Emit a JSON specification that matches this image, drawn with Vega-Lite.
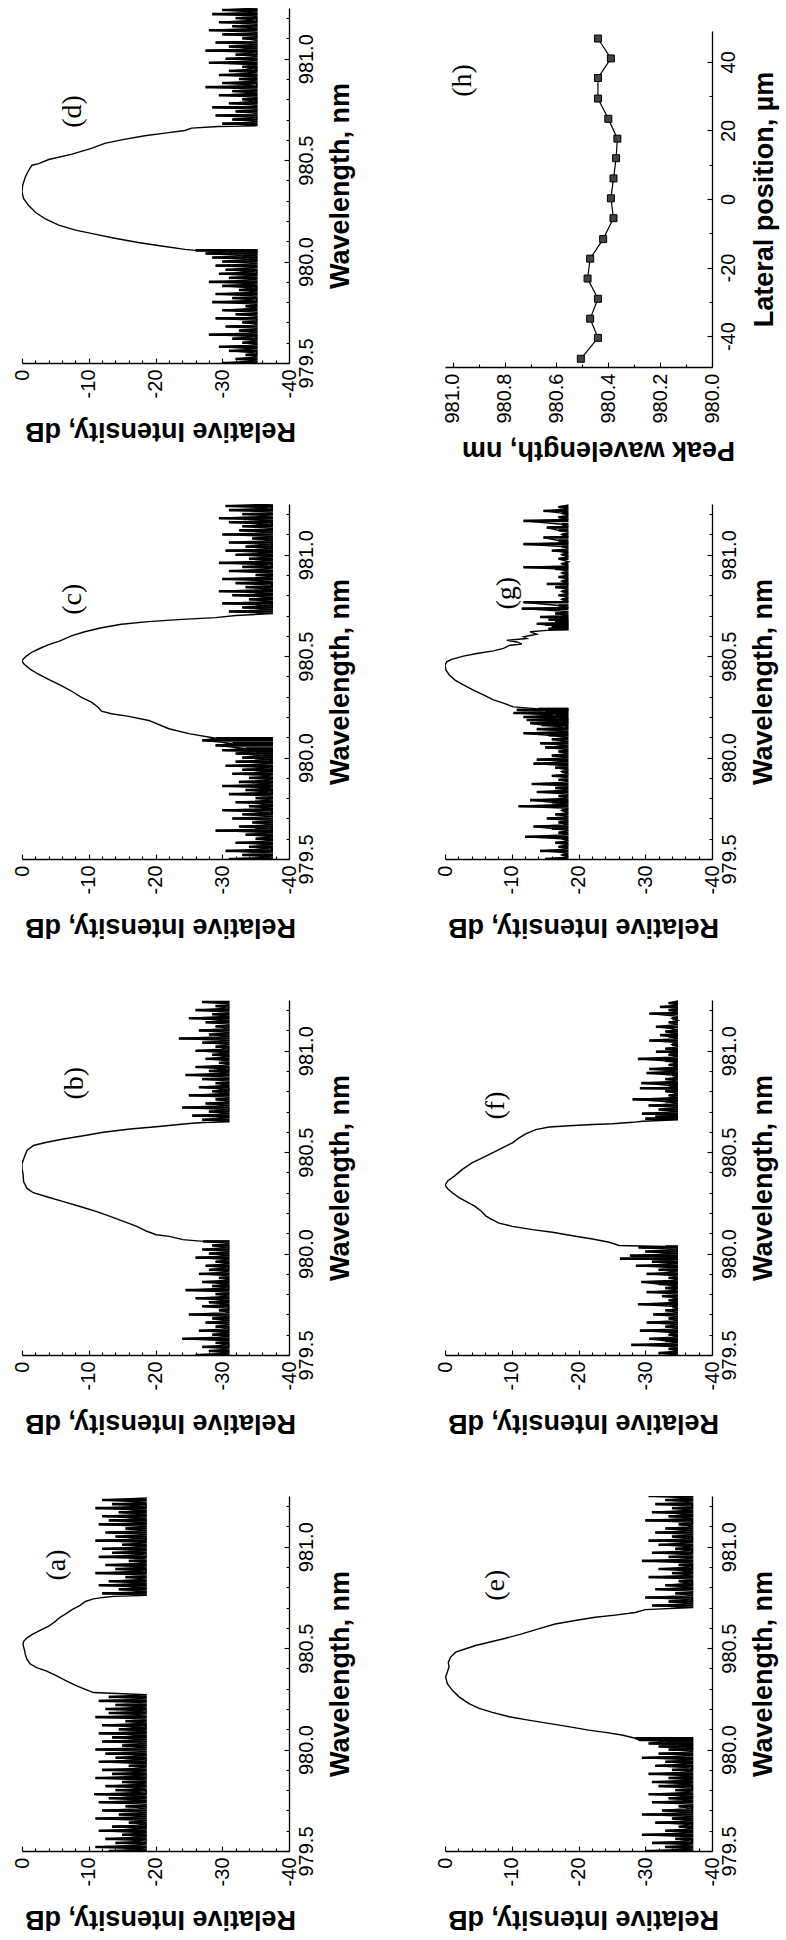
{
"$schema": "https://vega.github.io/schema/vega-lite/v6.json",
"background": "white",
"padding": {"left": 12, "top": 8, "right": 4, "bottom": 10},
"bounds": "flush",
"columns": 2,
"spacing": {"row": 141, "column": 156},
"datasets": {
"d": [{"w":979.50,"v":-30},{"w":979.51,"v":-35.3},{"w":979.52,"v":-32},{"w":979.53,"v":-35.3},{"w":979.54,"v":-33.5},{"w":979.55,"v":-35},{"w":979.56,"v":-31},{"w":979.57,"v":-35.3},{"w":979.58,"v":-29.5},{"w":979.59,"v":-35.3},{"w":979.60,"v":-33},{"w":979.61,"v":-35.3},{"w":979.62,"v":-31.5},{"w":979.63,"v":-34.8},{"w":979.64,"v":-28},{"w":979.65,"v":-35.3},{"w":979.66,"v":-32.5},{"w":979.67,"v":-35.3},{"w":979.68,"v":-30.5},{"w":979.69,"v":-35.3},{"w":979.70,"v":-33},{"w":979.71,"v":-35},{"w":979.72,"v":-29},{"w":979.73,"v":-35.3},{"w":979.74,"v":-32},{"w":979.75,"v":-35.3},{"w":979.76,"v":-30},{"w":979.77,"v":-35.3},{"w":979.78,"v":-33.5},{"w":979.79,"v":-35.3},{"w":979.80,"v":-28.5},{"w":979.81,"v":-35},{"w":979.82,"v":-31.5},{"w":979.83,"v":-35.3},{"w":979.84,"v":-29},{"w":979.85,"v":-35.3},{"w":979.86,"v":-32.5},{"w":979.87,"v":-34.8},{"w":979.88,"v":-30},{"w":979.89,"v":-35.3},{"w":979.90,"v":-28},{"w":979.91,"v":-35.3},{"w":979.92,"v":-31},{"w":979.93,"v":-35.3},{"w":979.94,"v":-29.5},{"w":979.95,"v":-35},{"w":979.96,"v":-30.5},{"w":979.97,"v":-35.3},{"w":979.98,"v":-29},{"w":979.99,"v":-35.3},{"w":980.00,"v":-30},{"w":980.01,"v":-34},{"w":980.02,"v":-28.5},{"w":980.03,"v":-33},{"w":980.04,"v":-27.5},{"w":980.05,"v":-31},{"w":980.055,"v":-26},{"w":980.06,"v":-24.4},{"w":980.077,"v":-20.9},{"w":980.094,"v":-17.4},{"w":980.115,"v":-13.9},{"w":980.135,"v":-10.9},{"w":980.155,"v":-8},{"w":980.18,"v":-5.5},{"w":980.21,"v":-3.5},{"w":980.243,"v":-2},{"w":980.276,"v":-1},{"w":980.31,"v":-0.25},{"w":980.342,"v":0},{"w":980.376,"v":-0.1},{"w":980.417,"v":-0.5},{"w":980.45,"v":-1},{"w":980.475,"v":-1.5},{"w":980.483,"v":-2.5},{"w":980.503,"v":-4},{"w":980.53,"v":-7.5},{"w":980.558,"v":-10.4},{"w":980.583,"v":-12.4},{"w":980.6,"v":-14.9},{"w":980.62,"v":-18.4},{"w":980.633,"v":-21.4},{"w":980.646,"v":-24.4},{"w":980.658,"v":-25.4},{"w":980.666,"v":-29.4},{"w":980.67,"v":-35.3},{"w":980.68,"v":-30},{"w":980.69,"v":-35.3},{"w":980.70,"v":-31.5},{"w":980.71,"v":-35},{"w":980.72,"v":-29},{"w":980.73,"v":-35.3},{"w":980.74,"v":-32},{"w":980.75,"v":-35.3},{"w":980.76,"v":-28.5},{"w":980.77,"v":-35.3},{"w":980.78,"v":-31},{"w":980.79,"v":-34.8},{"w":980.80,"v":-33},{"w":980.81,"v":-35.3},{"w":980.82,"v":-29.5},{"w":980.83,"v":-35.3},{"w":980.84,"v":-31.5},{"w":980.85,"v":-35.3},{"w":980.86,"v":-27.5},{"w":980.87,"v":-35},{"w":980.88,"v":-30},{"w":980.89,"v":-35.3},{"w":980.90,"v":-32.5},{"w":980.91,"v":-35.3},{"w":980.92,"v":-29.5},{"w":980.93,"v":-35.3},{"w":980.94,"v":-31},{"w":980.95,"v":-34.8},{"w":980.96,"v":-33},{"w":980.97,"v":-35.3},{"w":980.98,"v":-28},{"w":980.99,"v":-35.3},{"w":981.00,"v":-30.5},{"w":981.01,"v":-35.3},{"w":981.02,"v":-32},{"w":981.03,"v":-35},{"w":981.04,"v":-27.5},{"w":981.05,"v":-35.3},{"w":981.06,"v":-31},{"w":981.07,"v":-35.3},{"w":981.08,"v":-29},{"w":981.09,"v":-35.3},{"w":981.10,"v":-33},{"w":981.11,"v":-34.8},{"w":981.12,"v":-30},{"w":981.13,"v":-35.3},{"w":981.14,"v":-28},{"w":981.15,"v":-35.3},{"w":981.16,"v":-31.5},{"w":981.17,"v":-35.3},{"w":981.18,"v":-29.5},{"w":981.19,"v":-35},{"w":981.20,"v":-32},{"w":981.21,"v":-35.3},{"w":981.22,"v":-28.5},{"w":981.23,"v":-35.3},{"w":981.24,"v":-30},{"w":981.25,"v":-35.3}],
"c": [{"w":979.50,"v":-31},{"w":979.51,"v":-37.6},{"w":979.52,"v":-33},{"w":979.53,"v":-37.6},{"w":979.54,"v":-30.5},{"w":979.55,"v":-37.2},{"w":979.56,"v":-34},{"w":979.57,"v":-37.6},{"w":979.58,"v":-32},{"w":979.59,"v":-37.6},{"w":979.60,"v":-35},{"w":979.61,"v":-37.6},{"w":979.62,"v":-33.5},{"w":979.63,"v":-37.6},{"w":979.64,"v":-29},{"w":979.65,"v":-37.2},{"w":979.66,"v":-32.5},{"w":979.67,"v":-37.6},{"w":979.68,"v":-34.5},{"w":979.69,"v":-37.6},{"w":979.70,"v":-31.5},{"w":979.71,"v":-37.6},{"w":979.72,"v":-33},{"w":979.73,"v":-37.2},{"w":979.74,"v":-30},{"w":979.75,"v":-37.6},{"w":979.76,"v":-34},{"w":979.77,"v":-37.6},{"w":979.78,"v":-32},{"w":979.79,"v":-37.6},{"w":979.80,"v":-35},{"w":979.81,"v":-37.6},{"w":979.82,"v":-31},{"w":979.83,"v":-37.2},{"w":979.84,"v":-33.5},{"w":979.85,"v":-37.6},{"w":979.86,"v":-30},{"w":979.87,"v":-37.6},{"w":979.88,"v":-32.5},{"w":979.89,"v":-37.6},{"w":979.90,"v":-34},{"w":979.91,"v":-37.6},{"w":979.92,"v":-31.5},{"w":979.93,"v":-37.6},{"w":979.94,"v":-33},{"w":979.95,"v":-37.2},{"w":979.96,"v":-30.5},{"w":979.97,"v":-37.6},{"w":979.98,"v":-32},{"w":979.99,"v":-37},{"w":980.00,"v":-33},{"w":980.01,"v":-36},{"w":980.02,"v":-32},{"w":980.03,"v":-35},{"w":980.036,"v":-30},{"w":980.045,"v":-33.5},{"w":980.06,"v":-29},{"w":980.07,"v":-31.5},{"w":980.085,"v":-27},{"w":980.095,"v":-29},{"w":980.118,"v":-25},{"w":980.142,"v":-22},{"w":980.183,"v":-19},{"w":980.203,"v":-16},{"w":980.216,"v":-13.4},{"w":980.229,"v":-11.9},{"w":980.248,"v":-11.4},{"w":980.273,"v":-10.4},{"w":980.297,"v":-8.9},{"w":980.322,"v":-7.7},{"w":980.355,"v":-5.9},{"w":980.387,"v":-3.9},{"w":980.412,"v":-2.4},{"w":980.436,"v":-1.2},{"w":980.461,"v":-0.3},{"w":980.477,"v":0},{"w":980.49,"v":-0.3},{"w":980.50,"v":-0.65},{"w":980.518,"v":-1.4},{"w":980.534,"v":-2.4},{"w":980.556,"v":-3.9},{"w":980.575,"v":-5.7},{"w":980.60,"v":-7.4},{"w":980.62,"v":-9.4},{"w":980.64,"v":-11.9},{"w":980.657,"v":-14.9},{"w":980.67,"v":-18.9},{"w":980.681,"v":-24},{"w":980.69,"v":-29},{"w":980.70,"v":-32},{"w":980.71,"v":-37.6},{"w":980.72,"v":-31},{"w":980.73,"v":-37.6},{"w":980.74,"v":-33},{"w":980.75,"v":-37.2},{"w":980.76,"v":-30},{"w":980.77,"v":-37.6},{"w":980.78,"v":-34},{"w":980.79,"v":-37.6},{"w":980.80,"v":-31.5},{"w":980.81,"v":-37.6},{"w":980.82,"v":-29.5},{"w":980.83,"v":-37.6},{"w":980.84,"v":-33.5},{"w":980.85,"v":-37.2},{"w":980.86,"v":-32},{"w":980.87,"v":-37.6},{"w":980.88,"v":-30},{"w":980.89,"v":-37.6},{"w":980.90,"v":-35},{"w":980.91,"v":-37.6},{"w":980.92,"v":-31},{"w":980.93,"v":-37.6},{"w":980.94,"v":-33},{"w":980.95,"v":-37.2},{"w":980.96,"v":-29.5},{"w":980.97,"v":-37.6},{"w":980.98,"v":-34},{"w":980.99,"v":-37.6},{"w":981.00,"v":-32},{"w":981.01,"v":-37.6},{"w":981.02,"v":-30.5},{"w":981.03,"v":-37.6},{"w":981.04,"v":-33.5},{"w":981.05,"v":-37.2},{"w":981.06,"v":-31},{"w":981.07,"v":-37.6},{"w":981.08,"v":-34.5},{"w":981.09,"v":-37.6},{"w":981.10,"v":-30},{"w":981.11,"v":-37.6},{"w":981.12,"v":-32.5},{"w":981.13,"v":-37.6},{"w":981.14,"v":-33},{"w":981.15,"v":-37.2},{"w":981.16,"v":-31},{"w":981.17,"v":-37.6},{"w":981.18,"v":-29.5},{"w":981.19,"v":-37.6},{"w":981.20,"v":-33},{"w":981.21,"v":-37.6},{"w":981.22,"v":-31},{"w":981.23,"v":-37.2},{"w":981.24,"v":-30.5},{"w":981.25,"v":-37.6}],
"b": [{"w":979.50,"v":-26},{"w":979.51,"v":-31.1},{"w":979.52,"v":-28},{"w":979.53,"v":-31.1},{"w":979.54,"v":-27},{"w":979.55,"v":-30.8},{"w":979.56,"v":-29},{"w":979.57,"v":-31.1},{"w":979.58,"v":-24},{"w":979.59,"v":-31.1},{"w":979.60,"v":-28.5},{"w":979.61,"v":-31.1},{"w":979.62,"v":-26.5},{"w":979.63,"v":-30.8},{"w":979.64,"v":-29},{"w":979.65,"v":-31.1},{"w":979.66,"v":-27.5},{"w":979.67,"v":-31.1},{"w":979.68,"v":-28.5},{"w":979.69,"v":-31.1},{"w":979.70,"v":-25},{"w":979.71,"v":-31.1},{"w":979.72,"v":-29.5},{"w":979.73,"v":-30.8},{"w":979.74,"v":-27},{"w":979.75,"v":-31.1},{"w":979.76,"v":-28},{"w":979.77,"v":-31.1},{"w":979.78,"v":-26},{"w":979.79,"v":-31.1},{"w":979.80,"v":-29},{"w":979.81,"v":-31.1},{"w":979.82,"v":-24.5},{"w":979.83,"v":-30.8},{"w":979.84,"v":-28.5},{"w":979.85,"v":-31.1},{"w":979.86,"v":-27},{"w":979.87,"v":-31.1},{"w":979.88,"v":-29.5},{"w":979.89,"v":-31.1},{"w":979.90,"v":-26.5},{"w":979.91,"v":-31.1},{"w":979.92,"v":-28},{"w":979.93,"v":-30.8},{"w":979.94,"v":-27.5},{"w":979.95,"v":-31.1},{"w":979.96,"v":-29},{"w":979.97,"v":-31.1},{"w":979.98,"v":-26},{"w":979.99,"v":-31.1},{"w":980.00,"v":-28},{"w":980.01,"v":-31.1},{"w":980.02,"v":-27},{"w":980.03,"v":-30.8},{"w":980.04,"v":-28.5},{"w":980.05,"v":-31.1},{"w":980.06,"v":-27.1},{"w":980.069,"v":-24.1},{"w":980.085,"v":-22.1},{"w":980.093,"v":-20.1},{"w":980.11,"v":-18.7},{"w":980.134,"v":-17.2},{"w":980.159,"v":-15.2},{"w":980.183,"v":-13.2},{"w":980.207,"v":-11.2},{"w":980.232,"v":-8.7},{"w":980.256,"v":-6.2},{"w":980.28,"v":-3.7},{"w":980.30,"v":-1.7},{"w":980.321,"v":-0.75},{"w":980.354,"v":-0.25},{"w":980.394,"v":-0.15},{"w":980.419,"v":0},{"w":980.443,"v":0},{"w":980.476,"v":-0.35},{"w":980.508,"v":-0.75},{"w":980.533,"v":-1.7},{"w":980.549,"v":-3.7},{"w":980.565,"v":-6.2},{"w":980.581,"v":-9.2},{"w":980.598,"v":-12.2},{"w":980.614,"v":-16.2},{"w":980.625,"v":-20.1},{"w":980.635,"v":-23.1},{"w":980.641,"v":-25.1},{"w":980.646,"v":-27.1},{"w":980.65,"v":-31.1},{"w":980.66,"v":-27},{"w":980.67,"v":-31.1},{"w":980.68,"v":-25.5},{"w":980.69,"v":-31.1},{"w":980.70,"v":-28},{"w":980.71,"v":-30.8},{"w":980.72,"v":-24},{"w":980.73,"v":-31.1},{"w":980.74,"v":-27.5},{"w":980.75,"v":-31.1},{"w":980.76,"v":-29},{"w":980.77,"v":-31.1},{"w":980.78,"v":-25},{"w":980.79,"v":-31.1},{"w":980.80,"v":-28.5},{"w":980.81,"v":-30.8},{"w":980.82,"v":-26.5},{"w":980.83,"v":-31.1},{"w":980.84,"v":-29},{"w":980.85,"v":-31.1},{"w":980.86,"v":-27},{"w":980.87,"v":-31.1},{"w":980.88,"v":-24.5},{"w":980.89,"v":-31.1},{"w":980.90,"v":-28},{"w":980.91,"v":-30.8},{"w":980.92,"v":-26},{"w":980.93,"v":-31.1},{"w":980.94,"v":-29.5},{"w":980.95,"v":-31.1},{"w":980.96,"v":-27.5},{"w":980.97,"v":-31.1},{"w":980.98,"v":-28.5},{"w":980.99,"v":-31.1},{"w":981.00,"v":-26},{"w":981.01,"v":-30.8},{"w":981.02,"v":-29},{"w":981.03,"v":-31.1},{"w":981.04,"v":-27},{"w":981.05,"v":-31.1},{"w":981.06,"v":-23.5},{"w":981.07,"v":-31.1},{"w":981.08,"v":-28},{"w":981.09,"v":-31.1},{"w":981.10,"v":-26.5},{"w":981.11,"v":-30.8},{"w":981.12,"v":-29},{"w":981.13,"v":-31.1},{"w":981.14,"v":-27.5},{"w":981.15,"v":-31.1},{"w":981.16,"v":-25},{"w":981.17,"v":-31.1},{"w":981.18,"v":-28.5},{"w":981.19,"v":-31.1},{"w":981.20,"v":-26},{"w":981.21,"v":-30.8},{"w":981.22,"v":-29},{"w":981.23,"v":-31.1},{"w":981.24,"v":-27}],
"a": [{"w":979.50,"v":-13},{"w":979.51,"v":-18.7},{"w":979.52,"v":-11},{"w":979.53,"v":-18.7},{"w":979.54,"v":-14},{"w":979.55,"v":-18.5},{"w":979.56,"v":-12.5},{"w":979.57,"v":-18.7},{"w":979.58,"v":-15},{"w":979.59,"v":-18.7},{"w":979.60,"v":-11.5},{"w":979.61,"v":-18.7},{"w":979.62,"v":-13.5},{"w":979.63,"v":-18.4},{"w":979.64,"v":-16},{"w":979.65,"v":-18.7},{"w":979.66,"v":-11},{"w":979.67,"v":-18.7},{"w":979.68,"v":-14.5},{"w":979.69,"v":-18.7},{"w":979.70,"v":-12},{"w":979.71,"v":-18.5},{"w":979.72,"v":-15.5},{"w":979.73,"v":-18.7},{"w":979.74,"v":-11.5},{"w":979.75,"v":-18.7},{"w":979.76,"v":-13},{"w":979.77,"v":-18.7},{"w":979.78,"v":-10.8},{"w":979.79,"v":-18.4},{"w":979.80,"v":-14},{"w":979.81,"v":-18.7},{"w":979.82,"v":-12.5},{"w":979.83,"v":-18.7},{"w":979.84,"v":-15},{"w":979.85,"v":-18.7},{"w":979.86,"v":-11},{"w":979.87,"v":-18.5},{"w":979.88,"v":-13.5},{"w":979.89,"v":-18.7},{"w":979.90,"v":-12},{"w":979.91,"v":-18.7},{"w":979.92,"v":-16},{"w":979.93,"v":-18.7},{"w":979.94,"v":-11.5},{"w":979.95,"v":-18.4},{"w":979.96,"v":-14},{"w":979.97,"v":-18.7},{"w":979.98,"v":-12.5},{"w":979.99,"v":-18.7},{"w":980.00,"v":-11},{"w":980.01,"v":-18.7},{"w":980.02,"v":-15},{"w":980.03,"v":-18.5},{"w":980.04,"v":-12},{"w":980.05,"v":-18.7},{"w":980.06,"v":-13.5},{"w":980.07,"v":-18.7},{"w":980.08,"v":-11.5},{"w":980.09,"v":-18.7},{"w":980.10,"v":-14.5},{"w":980.11,"v":-18.4},{"w":980.12,"v":-12},{"w":980.13,"v":-18.7},{"w":980.14,"v":-15.5},{"w":980.15,"v":-18.7},{"w":980.16,"v":-11},{"w":980.17,"v":-18.7},{"w":980.18,"v":-13},{"w":980.19,"v":-18.5},{"w":980.20,"v":-12.5},{"w":980.21,"v":-18.7},{"w":980.22,"v":-14},{"w":980.23,"v":-18.7},{"w":980.24,"v":-11.5},{"w":980.25,"v":-18.7},{"w":980.26,"v":-13},{"w":980.27,"v":-18.7},{"w":980.281,"v":-10.7},{"w":980.297,"v":-9.5},{"w":980.314,"v":-8.2},{"w":980.338,"v":-6.7},{"w":980.363,"v":-5.2},{"w":980.387,"v":-3.7},{"w":980.404,"v":-2.2},{"w":980.423,"v":-1.2},{"w":980.444,"v":-0.75},{"w":980.469,"v":-0.5},{"w":980.493,"v":-0.35},{"w":980.518,"v":-0.15},{"w":980.534,"v":-0.25},{"w":980.551,"v":-0.75},{"w":980.567,"v":-1.5},{"w":980.587,"v":-2.7},{"w":980.608,"v":-4},{"w":980.632,"v":-5},{"w":980.652,"v":-5.7},{"w":980.668,"v":-6.5},{"w":980.69,"v":-7.5},{"w":980.711,"v":-8.7},{"w":980.73,"v":-9.5},{"w":980.743,"v":-10.7},{"w":980.75,"v":-12.2},{"w":980.755,"v":-13.7},{"w":980.76,"v":-18.7},{"w":980.77,"v":-12},{"w":980.78,"v":-18.7},{"w":980.79,"v":-14.5},{"w":980.80,"v":-18.5},{"w":980.81,"v":-11.5},{"w":980.82,"v":-18.7},{"w":980.83,"v":-13},{"w":980.84,"v":-18.7},{"w":980.85,"v":-15.5},{"w":980.86,"v":-18.7},{"w":980.87,"v":-11},{"w":980.88,"v":-18.4},{"w":980.89,"v":-14},{"w":980.90,"v":-18.7},{"w":980.91,"v":-12.5},{"w":980.92,"v":-18.7},{"w":980.93,"v":-16},{"w":980.94,"v":-18.7},{"w":980.95,"v":-11.5},{"w":980.96,"v":-18.5},{"w":980.97,"v":-13.5},{"w":980.98,"v":-18.7},{"w":980.99,"v":-12},{"w":981.00,"v":-18.7},{"w":981.01,"v":-15},{"w":981.02,"v":-18.7},{"w":981.03,"v":-11},{"w":981.04,"v":-18.4},{"w":981.05,"v":-14},{"w":981.06,"v":-18.7},{"w":981.07,"v":-12.5},{"w":981.08,"v":-18.7},{"w":981.09,"v":-15.5},{"w":981.10,"v":-18.7},{"w":981.11,"v":-11.5},{"w":981.12,"v":-18.5},{"w":981.13,"v":-13},{"w":981.14,"v":-18.7},{"w":981.15,"v":-12},{"w":981.16,"v":-18.7},{"w":981.17,"v":-14.5},{"w":981.18,"v":-18.7},{"w":981.19,"v":-11},{"w":981.20,"v":-18.4},{"w":981.21,"v":-13.5},{"w":981.22,"v":-18.7},{"w":981.23,"v":-12},{"w":981.24,"v":-18.7}],
"e": [{"w":979.50,"v":-30},{"w":979.51,"v":-37.2},{"w":979.52,"v":-33},{"w":979.53,"v":-37.2},{"w":979.54,"v":-31},{"w":979.55,"v":-36.8},{"w":979.56,"v":-34.5},{"w":979.57,"v":-37.2},{"w":979.58,"v":-29.5},{"w":979.59,"v":-37.2},{"w":979.60,"v":-33},{"w":979.61,"v":-37.2},{"w":979.62,"v":-35},{"w":979.63,"v":-36.8},{"w":979.64,"v":-31.5},{"w":979.65,"v":-37.2},{"w":979.66,"v":-34},{"w":979.67,"v":-37.2},{"w":979.68,"v":-29.5},{"w":979.69,"v":-37.2},{"w":979.70,"v":-32.5},{"w":979.71,"v":-36.8},{"w":979.72,"v":-35},{"w":979.73,"v":-37.2},{"w":979.74,"v":-31},{"w":979.75,"v":-37.2},{"w":979.76,"v":-33.5},{"w":979.77,"v":-37.2},{"w":979.78,"v":-30.5},{"w":979.79,"v":-37.2},{"w":979.80,"v":-34.5},{"w":979.81,"v":-36.8},{"w":979.82,"v":-32},{"w":979.83,"v":-37.2},{"w":979.84,"v":-31},{"w":979.85,"v":-37.2},{"w":979.86,"v":-33.5},{"w":979.87,"v":-37.2},{"w":979.88,"v":-30.5},{"w":979.89,"v":-37.2},{"w":979.90,"v":-34},{"w":979.91,"v":-36.8},{"w":979.92,"v":-31.5},{"w":979.93,"v":-37.2},{"w":979.94,"v":-33},{"w":979.95,"v":-37.2},{"w":979.96,"v":-29.5},{"w":979.97,"v":-37.2},{"w":979.98,"v":-32},{"w":979.99,"v":-37.2},{"w":980.00,"v":-33.5},{"w":980.006,"v":-36},{"w":980.015,"v":-32},{"w":980.023,"v":-35},{"w":980.03,"v":-30.5},{"w":980.04,"v":-33},{"w":980.048,"v":-29},{"w":980.056,"v":-28.5},{"w":980.072,"v":-26.5},{"w":980.085,"v":-24},{"w":980.096,"v":-21.5},{"w":980.113,"v":-18.5},{"w":980.129,"v":-15.5},{"w":980.145,"v":-12.5},{"w":980.162,"v":-9.6},{"w":980.183,"v":-7.1},{"w":980.203,"v":-5.1},{"w":980.227,"v":-3.6},{"w":980.26,"v":-2.1},{"w":980.292,"v":-1.1},{"w":980.325,"v":-0.35},{"w":980.358,"v":-0.1},{"w":980.382,"v":-0.35},{"w":980.407,"v":-0.6},{"w":980.431,"v":-0.5},{"w":980.456,"v":-0.85},{"w":980.48,"v":-1.6},{"w":980.497,"v":-3.1},{"w":980.513,"v":-4.6},{"w":980.529,"v":-6.6},{"w":980.549,"v":-9.1},{"w":980.57,"v":-11.5},{"w":980.595,"v":-14},{"w":980.619,"v":-16.5},{"w":980.636,"v":-19.5},{"w":980.652,"v":-22.5},{"w":980.663,"v":-25.5},{"w":980.676,"v":-28.5},{"w":980.69,"v":-30},{"w":980.70,"v":-37.2},{"w":980.71,"v":-31},{"w":980.72,"v":-37.2},{"w":980.73,"v":-33.5},{"w":980.74,"v":-36.8},{"w":980.75,"v":-30},{"w":980.76,"v":-37.2},{"w":980.77,"v":-34.5},{"w":980.78,"v":-37.2},{"w":980.79,"v":-31.5},{"w":980.80,"v":-37.2},{"w":980.81,"v":-33},{"w":980.82,"v":-36.8},{"w":980.83,"v":-35},{"w":980.84,"v":-37.2},{"w":980.85,"v":-30.5},{"w":980.86,"v":-37.2},{"w":980.87,"v":-34},{"w":980.88,"v":-37.2},{"w":980.89,"v":-32},{"w":980.90,"v":-36.8},{"w":980.91,"v":-35},{"w":980.92,"v":-37.2},{"w":980.93,"v":-29.5},{"w":980.94,"v":-37.2},{"w":980.95,"v":-33.5},{"w":980.96,"v":-37.2},{"w":980.97,"v":-31},{"w":980.98,"v":-36.8},{"w":980.99,"v":-34.5},{"w":981.00,"v":-37.2},{"w":981.01,"v":-32},{"w":981.02,"v":-37.2},{"w":981.03,"v":-30.5},{"w":981.04,"v":-36.8},{"w":981.05,"v":-34},{"w":981.06,"v":-37.2},{"w":981.07,"v":-31.5},{"w":981.08,"v":-37.2},{"w":981.09,"v":-33},{"w":981.10,"v":-37.2},{"w":981.11,"v":-35},{"w":981.12,"v":-36.8},{"w":981.13,"v":-30},{"w":981.14,"v":-37.2},{"w":981.15,"v":-33.5},{"w":981.16,"v":-37.2},{"w":981.17,"v":-31},{"w":981.18,"v":-37.2},{"w":981.19,"v":-34},{"w":981.20,"v":-36.8},{"w":981.21,"v":-31.5},{"w":981.22,"v":-37.2},{"w":981.23,"v":-33},{"w":981.24,"v":-37.2},{"w":981.25,"v":-30.5}],
"f": [{"w":979.50,"v":-34.9},{"w":979.51,"v":-32},{"w":979.52,"v":-34.9},{"w":979.53,"v":-33.5},{"w":979.54,"v":-34.9},{"w":979.55,"v":-27.9},{"w":979.56,"v":-34.9},{"w":979.57,"v":-33},{"w":979.58,"v":-30.6},{"w":979.59,"v":-34.9},{"w":979.60,"v":-33.5},{"w":979.61,"v":-34.9},{"w":979.62,"v":-29.2},{"w":979.63,"v":-34.9},{"w":979.64,"v":-33},{"w":979.65,"v":-34.9},{"w":979.66,"v":-30.2},{"w":979.67,"v":-34.9},{"w":979.68,"v":-33.5},{"w":979.69,"v":-34.9},{"w":979.70,"v":-31.2},{"w":979.71,"v":-34.9},{"w":979.72,"v":-33},{"w":979.73,"v":-34.9},{"w":979.74,"v":-34},{"w":979.75,"v":-28.9},{"w":979.76,"v":-34.9},{"w":979.77,"v":-33.5},{"w":979.78,"v":-34.9},{"w":979.79,"v":-32.5},{"w":979.80,"v":-34.9},{"w":979.81,"v":-30.2},{"w":979.82,"v":-34.9},{"w":979.83,"v":-33},{"w":979.84,"v":-34.9},{"w":979.85,"v":-32},{"w":979.86,"v":-29.4},{"w":979.87,"v":-34.9},{"w":979.88,"v":-33.5},{"w":979.89,"v":-34.9},{"w":979.90,"v":-30.2},{"w":979.91,"v":-34.9},{"w":979.92,"v":-32},{"w":979.93,"v":-34.9},{"w":979.94,"v":-28.6},{"w":979.95,"v":-34.9},{"w":979.96,"v":-31},{"w":979.97,"v":-34.9},{"w":979.975,"v":-26.2},{"w":979.98,"v":-34.9},{"w":979.99,"v":-27.7},{"w":980.00,"v":-34.9},{"w":980.01,"v":-30},{"w":980.02,"v":-34.5},{"w":980.03,"v":-29},{"w":980.035,"v":-33},{"w":980.04,"v":-26.1},{"w":980.056,"v":-24.6},{"w":980.072,"v":-22.1},{"w":980.088,"v":-19.1},{"w":980.105,"v":-16.1},{"w":980.118,"v":-13.1},{"w":980.134,"v":-10.1},{"w":980.15,"v":-8.1},{"w":980.17,"v":-6.9},{"w":980.186,"v":-6.1},{"w":980.21,"v":-5.4},{"w":980.235,"v":-4.4},{"w":980.252,"v":-3.4},{"w":980.276,"v":-2.1},{"w":980.30,"v":-1.1},{"w":980.32,"v":-0.4},{"w":980.337,"v":0},{"w":980.358,"v":-0.4},{"w":980.382,"v":-1.4},{"w":980.415,"v":-2.6},{"w":980.448,"v":-4.1},{"w":980.472,"v":-5.6},{"w":980.497,"v":-7.1},{"w":980.521,"v":-8.6},{"w":980.546,"v":-10.1},{"w":980.57,"v":-11.1},{"w":980.59,"v":-12.1},{"w":980.611,"v":-13.6},{"w":980.624,"v":-15.6},{"w":980.63,"v":-18.6},{"w":980.636,"v":-22.1},{"w":980.64,"v":-25.1},{"w":980.647,"v":-28.1},{"w":980.652,"v":-29.6},{"w":980.66,"v":-34.9},{"w":980.665,"v":-30},{"w":980.67,"v":-34.9},{"w":980.675,"v":-31.5},{"w":980.68,"v":-34.9},{"w":980.69,"v":-29.5},{"w":980.70,"v":-34.9},{"w":980.71,"v":-32},{"w":980.72,"v":-34.9},{"w":980.73,"v":-30.5},{"w":980.74,"v":-34.9},{"w":980.75,"v":-33},{"w":980.76,"v":-28.1},{"w":980.77,"v":-34.9},{"w":980.78,"v":-33.5},{"w":980.79,"v":-34.9},{"w":980.80,"v":-33},{"w":980.81,"v":-34.9},{"w":980.815,"v":-29.2},{"w":980.82,"v":-34.9},{"w":980.83,"v":-33.5},{"w":980.84,"v":-29.4},{"w":980.85,"v":-34.9},{"w":980.86,"v":-33},{"w":980.87,"v":-34.9},{"w":980.88,"v":-34},{"w":980.89,"v":-30.2},{"w":980.90,"v":-34.9},{"w":980.91,"v":-30.6},{"w":980.92,"v":-34.9},{"w":980.93,"v":-33.5},{"w":980.94,"v":-34.9},{"w":980.95,"v":-33},{"w":980.96,"v":-28.9},{"w":980.97,"v":-34.9},{"w":980.98,"v":-33.5},{"w":980.99,"v":-34.9},{"w":980.995,"v":-31.6},{"w":981.00,"v":-34.9},{"w":981.01,"v":-33},{"w":981.02,"v":-34.9},{"w":981.03,"v":-34},{"w":981.04,"v":-34.9},{"w":981.05,"v":-30.6},{"w":981.06,"v":-34.9},{"w":981.07,"v":-33.5},{"w":981.077,"v":-32.2},{"w":981.085,"v":-34.9},{"w":981.095,"v":-33},{"w":981.105,"v":-34.9},{"w":981.118,"v":-31.6},{"w":981.13,"v":-34.9},{"w":981.14,"v":-33.5},{"w":981.15,"v":-34.9},{"w":981.16,"v":-34},{"w":981.17,"v":-34.9},{"w":981.183,"v":-30.6},{"w":981.19,"v":-34.9},{"w":981.20,"v":-33.5},{"w":981.21,"v":-34.9},{"w":981.216,"v":-32.2},{"w":981.225,"v":-34.9},{"w":981.235,"v":-33.5},{"w":981.245,"v":-34.9}],
"g": [{"w":979.50,"v":-15},{"w":979.51,"v":-18.5},{"w":979.52,"v":-17.5},{"w":979.53,"v":-18.5},{"w":979.54,"v":-14.25},{"w":979.55,"v":-18.5},{"w":979.56,"v":-17},{"w":979.57,"v":-18.5},{"w":979.58,"v":-16.5},{"w":979.59,"v":-18.5},{"w":979.60,"v":-17.5},{"w":979.61,"v":-12},{"w":979.62,"v":-18.5},{"w":979.63,"v":-17},{"w":979.64,"v":-18.5},{"w":979.65,"v":-16},{"w":979.66,"v":-13.25},{"w":979.67,"v":-18.5},{"w":979.68,"v":-17},{"w":979.69,"v":-18.5},{"w":979.70,"v":-15.25},{"w":979.71,"v":-18.5},{"w":979.72,"v":-16.5},{"w":979.73,"v":-18.5},{"w":979.74,"v":-17.5},{"w":979.75,"v":-18.5},{"w":979.76,"v":-11},{"w":979.77,"v":-18.5},{"w":979.78,"v":-16},{"w":979.79,"v":-12.75},{"w":979.80,"v":-18.5},{"w":979.81,"v":-17},{"w":979.82,"v":-18.5},{"w":979.83,"v":-13.75},{"w":979.84,"v":-18.5},{"w":979.85,"v":-16.5},{"w":979.86,"v":-18.5},{"w":979.87,"v":-13},{"w":979.88,"v":-18.5},{"w":979.89,"v":-17},{"w":979.90,"v":-18.5},{"w":979.91,"v":-16},{"w":979.92,"v":-18.5},{"w":979.93,"v":-17.5},{"w":979.94,"v":-18.5},{"w":979.95,"v":-16.5},{"w":979.96,"v":-18.5},{"w":979.97,"v":-13.25},{"w":979.98,"v":-18.5},{"w":979.99,"v":-13.75},{"w":980.00,"v":-18.5},{"w":980.01,"v":-16},{"w":980.02,"v":-18.5},{"w":980.03,"v":-17},{"w":980.04,"v":-18.5},{"w":980.05,"v":-15},{"w":980.06,"v":-18.5},{"w":980.07,"v":-14.25},{"w":980.08,"v":-18.5},{"w":980.09,"v":-16},{"w":980.10,"v":-18.5},{"w":980.11,"v":-15.5},{"w":980.12,"v":-11.75},{"w":980.13,"v":-18.5},{"w":980.14,"v":-13.75},{"w":980.15,"v":-18},{"w":980.16,"v":-14.5},{"w":980.17,"v":-12.75},{"w":980.175,"v":-17.5},{"w":980.185,"v":-12.25},{"w":980.19,"v":-17},{"w":980.20,"v":-11.75},{"w":980.21,"v":-16.5},{"w":980.22,"v":-10.25},{"w":980.23,"v":-15},{"w":980.235,"v":-10.75},{"w":980.24,"v":-14},{"w":980.25,"v":-10.25},{"w":980.268,"v":-8.75},{"w":980.284,"v":-7.25},{"w":980.309,"v":-5.75},{"w":980.333,"v":-4.25},{"w":980.358,"v":-2.75},{"w":980.382,"v":-1.5},{"w":980.407,"v":-0.65},{"w":980.431,"v":-0.15},{"w":980.456,"v":0},{"w":980.472,"v":-0.25},{"w":980.484,"v":-1},{"w":980.50,"v":-2.75},{"w":980.513,"v":-4.75},{"w":980.526,"v":-7.25},{"w":980.538,"v":-8.75},{"w":980.554,"v":-9.75},{"w":980.56,"v":-11.5},{"w":980.57,"v":-10.75},{"w":980.578,"v":-9.25},{"w":980.587,"v":-12.25},{"w":980.595,"v":-11.75},{"w":980.608,"v":-13.75},{"w":980.62,"v":-12.75},{"w":980.627,"v":-15.25},{"w":980.63,"v":-18.5},{"w":980.635,"v":-15.5},{"w":980.64,"v":-18.5},{"w":980.645,"v":-16},{"w":980.65,"v":-18.5},{"w":980.655,"v":-15},{"w":980.66,"v":-13.75},{"w":980.665,"v":-18.5},{"w":980.67,"v":-16.5},{"w":980.675,"v":-18.5},{"w":980.68,"v":-15.5},{"w":980.685,"v":-18.5},{"w":980.693,"v":-14.25},{"w":980.70,"v":-18.5},{"w":980.71,"v":-16.5},{"w":980.72,"v":-18.5},{"w":980.734,"v":-11.5},{"w":980.74,"v":-18.5},{"w":980.75,"v":-17},{"w":980.766,"v":-11.75},{"w":980.77,"v":-18.5},{"w":980.78,"v":-17.5},{"w":980.79,"v":-18.5},{"w":980.80,"v":-17},{"w":980.81,"v":-18.5},{"w":980.82,"v":-17.5},{"w":980.83,"v":-18.5},{"w":980.84,"v":-16.5},{"w":980.85,"v":-18.5},{"w":980.856,"v":-15.25},{"w":980.86,"v":-18.5},{"w":980.87,"v":-17.5},{"w":980.88,"v":-18.5},{"w":980.89,"v":-17},{"w":980.90,"v":-18.5},{"w":980.91,"v":-17.5},{"w":980.92,"v":-18.5},{"w":980.93,"v":-16.5},{"w":980.938,"v":-11.75},{"w":980.945,"v":-18.5},{"w":980.955,"v":-17.5},{"w":980.965,"v":-18.5},{"w":980.98,"v":-17},{"w":980.99,"v":-18.5},{"w":981.00,"v":-17.5},{"w":981.01,"v":-18.5},{"w":981.02,"v":-16},{"w":981.03,"v":-18.5},{"w":981.04,"v":-17.5},{"w":981.052,"v":-11.75},{"w":981.06,"v":-18.5},{"w":981.07,"v":-17},{"w":981.085,"v":-14.75},{"w":981.09,"v":-18.5},{"w":981.10,"v":-17.5},{"w":981.11,"v":-18.5},{"w":981.12,"v":-17},{"w":981.134,"v":-15.25},{"w":981.14,"v":-18.5},{"w":981.15,"v":-17.5},{"w":981.167,"v":-11.75},{"w":981.175,"v":-18.5},{"w":981.185,"v":-17},{"w":981.195,"v":-18.5},{"w":981.205,"v":-17.5},{"w":981.216,"v":-14.75},{"w":981.225,"v":-18.5},{"w":981.235,"v":-17},{"w":981.245,"v":-18.5}],
"h": [{"lat":-46.6,"pk":980.506},{"lat":-40.5,"pk":980.44},{"lat":-34.9,"pk":980.47},{"lat":-29.1,"pk":980.44},{"lat":-23.2,"pk":980.48},{"lat":-17.4,"pk":980.47},{"lat":-11.7,"pk":980.42},{"lat":-5.6,"pk":980.38},{"lat":0.2,"pk":980.39},{"lat":6.0,"pk":980.38},{"lat":11.9,"pk":980.37},{"lat":17.6,"pk":980.365},{"lat":23.4,"pk":980.40},{"lat":29.3,"pk":980.44},{"lat":35.3,"pk":980.44},{"lat":41.0,"pk":980.39},{"lat":46.8,"pk":980.44}]
},
"concat": [
{"width":267,"height":355,"data":{"name":"d"},"layer":[
 {"transform":[{"filter":"datum.w < 980.06 || datum.w > 980.666"}],"mark":{"type":"rule","color":"black","strokeWidth":2.6,"clip":true},"encoding":{"x":{"field":"v","type":"quantitative","scale":{"domain":[0,-40],"nice":false,"zero":false},"axis":null},"x2":{"datum":-35.3},"y":{"field":"w","type":"quantitative","scale":{"domain":[979.5,981.25],"nice":false,"zero":false},"axis":null}}},
 {"mark":{"type":"line","color":"black","strokeWidth":1.4,"clip":true},"encoding":{"x":{"field":"v","type":"quantitative","scale":{"domain":[0,-40],"nice":false,"zero":false},"axis":{"orient":"bottom","values":[0,-10,-20,-30,-40],"labelExpr":"'' + datum.value","title":"Relative Intensity, dB","titleX":138,"titleY":53}},"y":{"field":"w","type":"quantitative","scale":{"domain":[979.5,981.25],"nice":false,"zero":false},"axis":{"orient":"right","values":[979.5,980,980.5,981],"format":".1f","title":"Wavelength, nm"}},"order":{"field":"w","type":"quantitative"}}},
 {"data":{"values":[{"t":"(d)","w":980.74,"v":-7.7}]},"mark":{"type":"text","font":"Liberation Serif","fontSize":28,"angle":270,"color":"black"},"encoding":{"x":{"field":"v","type":"quantitative","scale":{"domain":[0,-40],"nice":false,"zero":false},"axis":{"orient":"bottom","values":[-2,-4,-6,-8,-12,-14,-16,-18,-22,-24,-26,-28,-32,-34,-36,-38],"labels":false,"domain":false,"tickSize":-3,"title":null}},"y":{"field":"w","type":"quantitative","scale":{"domain":[979.5,981.25],"nice":false,"zero":false},"axis":{"orient":"right","values":[979.6,979.7,979.8,979.9,980.1,980.2,980.3,980.4,980.6,980.7,980.8,980.9,981.1,981.2],"labels":false,"domain":false,"tickSize":-3,"title":null}},"text":{"field":"t"}}}
 ],"resolve":{"axis":{"x":"independent","y":"independent"}}},
{"width":267,"height":355,"layer":[
 {"data":{"name":"h"},"mark":{"type":"line","color":"black","strokeWidth":1.2},"encoding":{"x":{"field":"pk","type":"quantitative","scale":{"domain":[981.03,980.0],"nice":false,"zero":false},"axis":{"orient":"bottom","offset":4,"values":[980,980.2,980.4,980.6,980.8,981],"format":".1f","title":"Peak wavelength, nm","titleX":153,"titleY":68,"titlePadding":14}},"y":{"field":"lat","type":"quantitative","scale":{"domain":[-49,49],"range":[359,23],"nice":false,"zero":false},"axis":{"orient":"right","values":[-40,-20,0,20,40],"labelExpr":"'' + datum.value","labelPadding":11,"title":"Lateral position, µm","titlePadding":13}},"order":{"field":"lat","type":"quantitative"}}},
 {"data":{"name":"h"},"mark":{"type":"point","shape":"square","filled":true,"size":49,"fill":"#444","stroke":"black","strokeWidth":1,"opacity":1},"encoding":{"x":{"field":"pk","type":"quantitative","scale":{"domain":[981.03,980.0],"nice":false,"zero":false},"axis":null},"y":{"field":"lat","type":"quantitative","scale":{"domain":[-49,49],"range":[359,23],"nice":false,"zero":false},"axis":null}}},
 {"data":{"values":[{"t":"(h)","lat":34.6,"pk":980.96}]},"mark":{"type":"text","font":"Liberation Serif","fontSize":28,"angle":270,"color":"black"},"encoding":{"x":{"field":"pk","type":"quantitative","scale":{"domain":[981.03,980.0],"nice":false,"zero":false},"axis":{"orient":"bottom","offset":4,"values":[980.1,980.3,980.5,980.7,980.9],"labels":false,"domain":false,"tickSize":-3,"title":null}},"y":{"field":"lat","type":"quantitative","scale":{"domain":[-49,49],"range":[359,23],"nice":false,"zero":false},"axis":{"orient":"right","values":[-30,-10,10,30],"labels":false,"domain":false,"tickSize":-3,"title":null}},"text":{"field":"t"}}}
 ],"resolve":{"axis":{"x":"independent","y":"independent"}}},
{"width":267,"height":355,"data":{"name":"c"},"layer":[
 {"transform":[{"filter":"datum.w < 980.118 || datum.w > 980.70"}],"mark":{"type":"rule","color":"black","strokeWidth":2.6,"clip":true},"encoding":{"x":{"field":"v","type":"quantitative","scale":{"domain":[0,-40],"nice":false,"zero":false},"axis":null},"x2":{"datum":-37.6},"y":{"field":"w","type":"quantitative","scale":{"domain":[979.5,981.25],"nice":false,"zero":false},"axis":null}}},
 {"mark":{"type":"line","color":"black","strokeWidth":1.4,"clip":true},"encoding":{"x":{"field":"v","type":"quantitative","scale":{"domain":[0,-40],"nice":false,"zero":false},"axis":{"orient":"bottom","values":[0,-10,-20,-30,-40],"labelExpr":"'' + datum.value","title":"Relative Intensity, dB","titleX":138,"titleY":53}},"y":{"field":"w","type":"quantitative","scale":{"domain":[979.5,981.25],"nice":false,"zero":false},"axis":{"orient":"right","values":[979.5,980,980.5,981],"format":".1f","title":"Wavelength, nm"}},"order":{"field":"w","type":"quantitative"}}},
 {"data":{"values":[{"t":"(c)","w":980.78,"v":-7.7}]},"mark":{"type":"text","font":"Liberation Serif","fontSize":28,"angle":270,"color":"black"},"encoding":{"x":{"field":"v","type":"quantitative","scale":{"domain":[0,-40],"nice":false,"zero":false},"axis":{"orient":"bottom","values":[-2,-4,-6,-8,-12,-14,-16,-18,-22,-24,-26,-28,-32,-34,-36,-38],"labels":false,"domain":false,"tickSize":-3,"title":null}},"y":{"field":"w","type":"quantitative","scale":{"domain":[979.5,981.25],"nice":false,"zero":false},"axis":{"orient":"right","values":[979.6,979.7,979.8,979.9,980.1,980.2,980.3,980.4,980.6,980.7,980.8,980.9,981.1,981.2],"labels":false,"domain":false,"tickSize":-3,"title":null}},"text":{"field":"t"}}}
 ],"resolve":{"axis":{"x":"independent","y":"independent"}}},
{"width":267,"height":355,"data":{"name":"g"},"layer":[
 {"transform":[{"filter":"datum.w <= 980.24 || datum.w >= 980.63"}],"mark":{"type":"rule","color":"black","strokeWidth":2.6,"clip":true},"encoding":{"x":{"field":"v","type":"quantitative","scale":{"domain":[0,-40],"nice":false,"zero":false},"axis":null},"x2":{"datum":-18.5},"y":{"field":"w","type":"quantitative","scale":{"domain":[979.5,981.25],"nice":false,"zero":false},"axis":null}}},
 {"mark":{"type":"line","color":"black","strokeWidth":1.4,"clip":true},"encoding":{"x":{"field":"v","type":"quantitative","scale":{"domain":[0,-40],"nice":false,"zero":false},"axis":{"orient":"bottom","values":[0,-10,-20,-30,-40],"labelExpr":"'' + datum.value","title":"Relative Intensity, dB","titleX":138,"titleY":53}},"y":{"field":"w","type":"quantitative","scale":{"domain":[979.5,981.25],"nice":false,"zero":false},"axis":{"orient":"right","values":[979.5,980,980.5,981],"format":".1f","title":"Wavelength, nm"}},"order":{"field":"w","type":"quantitative"}}},
 {"data":{"values":[{"t":"(g)","w":980.81,"v":-9.25}]},"mark":{"type":"text","font":"Liberation Serif","fontSize":28,"angle":270,"color":"black"},"encoding":{"x":{"field":"v","type":"quantitative","scale":{"domain":[0,-40],"nice":false,"zero":false},"axis":{"orient":"bottom","values":[-2,-4,-6,-8,-12,-14,-16,-18,-22,-24,-26,-28,-32,-34,-36,-38],"labels":false,"domain":false,"tickSize":-3,"title":null}},"y":{"field":"w","type":"quantitative","scale":{"domain":[979.5,981.25],"nice":false,"zero":false},"axis":{"orient":"right","values":[979.6,979.7,979.8,979.9,980.1,980.2,980.3,980.4,980.6,980.7,980.8,980.9,981.1,981.2],"labels":false,"domain":false,"tickSize":-3,"title":null}},"text":{"field":"t"}}}
 ],"resolve":{"axis":{"x":"independent","y":"independent"}}},
{"width":267,"height":355,"data":{"name":"b"},"layer":[
 {"transform":[{"filter":"datum.w <= 980.06 || datum.w >= 980.65"}],"mark":{"type":"rule","color":"black","strokeWidth":2.6,"clip":true},"encoding":{"x":{"field":"v","type":"quantitative","scale":{"domain":[0,-40],"nice":false,"zero":false},"axis":null},"x2":{"datum":-31.1},"y":{"field":"w","type":"quantitative","scale":{"domain":[979.5,981.25],"nice":false,"zero":false},"axis":null}}},
 {"mark":{"type":"line","color":"black","strokeWidth":1.4,"clip":true},"encoding":{"x":{"field":"v","type":"quantitative","scale":{"domain":[0,-40],"nice":false,"zero":false},"axis":{"orient":"bottom","values":[0,-10,-20,-30,-40],"labelExpr":"'' + datum.value","title":"Relative Intensity, dB","titleX":138,"titleY":53}},"y":{"field":"w","type":"quantitative","scale":{"domain":[979.5,981.25],"nice":false,"zero":false},"axis":{"orient":"right","values":[979.5,980,980.5,981],"format":".1f","title":"Wavelength, nm"}},"order":{"field":"w","type":"quantitative"}}},
 {"data":{"values":[{"t":"(b)","w":980.84,"v":-8.0}]},"mark":{"type":"text","font":"Liberation Serif","fontSize":28,"angle":270,"color":"black"},"encoding":{"x":{"field":"v","type":"quantitative","scale":{"domain":[0,-40],"nice":false,"zero":false},"axis":{"orient":"bottom","values":[-2,-4,-6,-8,-12,-14,-16,-18,-22,-24,-26,-28,-32,-34,-36,-38],"labels":false,"domain":false,"tickSize":-3,"title":null}},"y":{"field":"w","type":"quantitative","scale":{"domain":[979.5,981.25],"nice":false,"zero":false},"axis":{"orient":"right","values":[979.6,979.7,979.8,979.9,980.1,980.2,980.3,980.4,980.6,980.7,980.8,980.9,981.1,981.2],"labels":false,"domain":false,"tickSize":-3,"title":null}},"text":{"field":"t"}}}
 ],"resolve":{"axis":{"x":"independent","y":"independent"}}},
{"width":267,"height":355,"data":{"name":"f"},"layer":[
 {"transform":[{"filter":"datum.w <= 980.035 || datum.w >= 980.66"}],"mark":{"type":"rule","color":"black","strokeWidth":2.6,"clip":true},"encoding":{"x":{"field":"v","type":"quantitative","scale":{"domain":[0,-40],"nice":false,"zero":false},"axis":null},"x2":{"datum":-34.9},"y":{"field":"w","type":"quantitative","scale":{"domain":[979.5,981.25],"nice":false,"zero":false},"axis":null}}},
 {"mark":{"type":"line","color":"black","strokeWidth":1.4,"clip":true},"encoding":{"x":{"field":"v","type":"quantitative","scale":{"domain":[0,-40],"nice":false,"zero":false},"axis":{"orient":"bottom","values":[0,-10,-20,-30,-40],"labelExpr":"'' + datum.value","title":"Relative Intensity, dB","titleX":138,"titleY":53}},"y":{"field":"w","type":"quantitative","scale":{"domain":[979.5,981.25],"nice":false,"zero":false},"axis":{"orient":"right","values":[979.5,980,980.5,981],"format":".1f","title":"Wavelength, nm"}},"order":{"field":"w","type":"quantitative"}}},
 {"data":{"values":[{"t":"(f)","w":980.73,"v":-7.65}]},"mark":{"type":"text","font":"Liberation Serif","fontSize":28,"angle":270,"color":"black"},"encoding":{"x":{"field":"v","type":"quantitative","scale":{"domain":[0,-40],"nice":false,"zero":false},"axis":{"orient":"bottom","values":[-2,-4,-6,-8,-12,-14,-16,-18,-22,-24,-26,-28,-32,-34,-36,-38],"labels":false,"domain":false,"tickSize":-3,"title":null}},"y":{"field":"w","type":"quantitative","scale":{"domain":[979.5,981.25],"nice":false,"zero":false},"axis":{"orient":"right","values":[979.6,979.7,979.8,979.9,980.1,980.2,980.3,980.4,980.6,980.7,980.8,980.9,981.1,981.2],"labels":false,"domain":false,"tickSize":-3,"title":null}},"text":{"field":"t"}}}
 ],"resolve":{"axis":{"x":"independent","y":"independent"}}},
{"width":267,"height":355,"data":{"name":"a"},"layer":[
 {"transform":[{"filter":"datum.w <= 980.27 || datum.w >= 980.76"}],"mark":{"type":"rule","color":"black","strokeWidth":2.6,"clip":true},"encoding":{"x":{"field":"v","type":"quantitative","scale":{"domain":[0,-40],"nice":false,"zero":false},"axis":null},"x2":{"datum":-18.7},"y":{"field":"w","type":"quantitative","scale":{"domain":[979.5,981.25],"nice":false,"zero":false},"axis":null}}},
 {"mark":{"type":"line","color":"black","strokeWidth":1.4,"clip":true},"encoding":{"x":{"field":"v","type":"quantitative","scale":{"domain":[0,-40],"nice":false,"zero":false},"axis":{"orient":"bottom","values":[0,-10,-20,-30,-40],"labelExpr":"'' + datum.value","title":"Relative Intensity, dB","titleX":138,"titleY":53}},"y":{"field":"w","type":"quantitative","scale":{"domain":[979.5,981.25],"nice":false,"zero":false},"axis":{"orient":"right","values":[979.5,980,980.5,981],"format":".1f","title":"Wavelength, nm"}},"order":{"field":"w","type":"quantitative"}}},
 {"data":{"values":[{"t":"(a)","w":980.91,"v":-5.2}]},"mark":{"type":"text","font":"Liberation Serif","fontSize":28,"angle":270,"color":"black"},"encoding":{"x":{"field":"v","type":"quantitative","scale":{"domain":[0,-40],"nice":false,"zero":false},"axis":{"orient":"bottom","values":[-2,-4,-6,-8,-12,-14,-16,-18,-22,-24,-26,-28,-32,-34,-36,-38],"labels":false,"domain":false,"tickSize":-3,"title":null}},"y":{"field":"w","type":"quantitative","scale":{"domain":[979.5,981.25],"nice":false,"zero":false},"axis":{"orient":"right","values":[979.6,979.7,979.8,979.9,980.1,980.2,980.3,980.4,980.6,980.7,980.8,980.9,981.1,981.2],"labels":false,"domain":false,"tickSize":-3,"title":null}},"text":{"field":"t"}}}
 ],"resolve":{"axis":{"x":"independent","y":"independent"}}},
{"width":267,"height":355,"data":{"name":"e"},"layer":[
 {"transform":[{"filter":"datum.w <= 980.056 || datum.w >= 980.70"}],"mark":{"type":"rule","color":"black","strokeWidth":2.6,"clip":true},"encoding":{"x":{"field":"v","type":"quantitative","scale":{"domain":[0,-40],"nice":false,"zero":false},"axis":null},"x2":{"datum":-37.2},"y":{"field":"w","type":"quantitative","scale":{"domain":[979.5,981.25],"nice":false,"zero":false},"axis":null}}},
 {"mark":{"type":"line","color":"black","strokeWidth":1.4,"clip":true},"encoding":{"x":{"field":"v","type":"quantitative","scale":{"domain":[0,-40],"nice":false,"zero":false},"axis":{"orient":"bottom","values":[0,-10,-20,-30,-40],"labelExpr":"'' + datum.value","title":"Relative Intensity, dB","titleX":138,"titleY":53}},"y":{"field":"w","type":"quantitative","scale":{"domain":[979.5,981.25],"nice":false,"zero":false},"axis":{"orient":"right","values":[979.5,980,980.5,981],"format":".1f","title":"Wavelength, nm"}},"order":{"field":"w","type":"quantitative"}}},
 {"data":{"values":[{"t":"(e)","w":980.81,"v":-7.6}]},"mark":{"type":"text","font":"Liberation Serif","fontSize":28,"angle":270,"color":"black"},"encoding":{"x":{"field":"v","type":"quantitative","scale":{"domain":[0,-40],"nice":false,"zero":false},"axis":{"orient":"bottom","values":[-2,-4,-6,-8,-12,-14,-16,-18,-22,-24,-26,-28,-32,-34,-36,-38],"labels":false,"domain":false,"tickSize":-3,"title":null}},"y":{"field":"w","type":"quantitative","scale":{"domain":[979.5,981.25],"nice":false,"zero":false},"axis":{"orient":"right","values":[979.6,979.7,979.8,979.9,980.1,980.2,980.3,980.4,980.6,980.7,980.8,980.9,981.1,981.2],"labels":false,"domain":false,"tickSize":-3,"title":null}},"text":{"field":"t"}}}
 ],"resolve":{"axis":{"x":"independent","y":"independent"}}}
],
"config": {
 "view": {"stroke": null},
 "font": "Liberation Sans",
 "axis": {"labelFont":"Liberation Sans","labelFontSize":20,"labelColor":"black","titleFont":"Liberation Sans","titleFontSize":27,"titleFontWeight":"bold","titleColor":"black","domainColor":"black","domainWidth":1.3,"tickColor":"black","tickWidth":1.1,"tickSize":-5,"grid":false,"labelFlush":false,"labelOverlap":false},
 "axisX": {"labelAngle":270,"labelAlign":"right","labelBaseline":"middle","labelPadding":11,"titleAngle":180,"titleAlign":"center","titleBaseline":"bottom","titlePadding":20},
 "axisY": {"labelAngle":270,"labelAlign":"center","labelBaseline":"top","labelPadding":12,"titleAngle":270,"titleBaseline":"top","titlePadding":11}
}
}
